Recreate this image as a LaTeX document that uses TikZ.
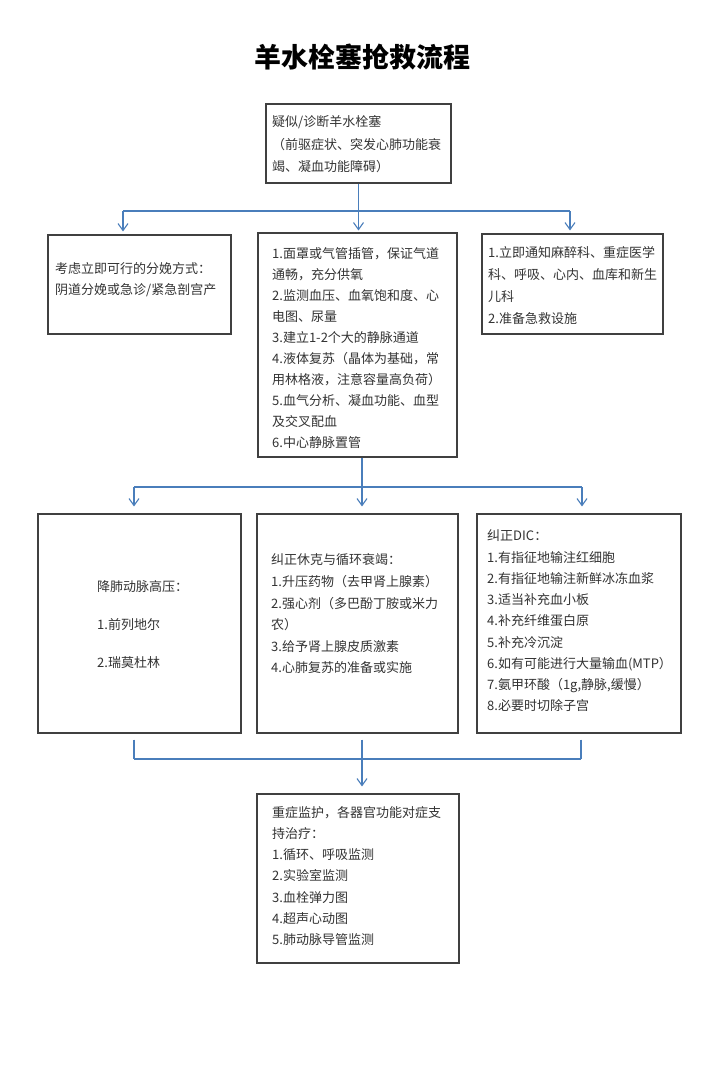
\documentclass[tikz,border=0pt]{standalone}
\usepackage{fontspec}
\newfontfamily\cjk{Noto Sans CJK SC}
\usetikzlibrary{arrows.meta,calc}
\definecolor{boxgray}{HTML}{404040}
\definecolor{textgray}{HTML}{333333}
\definecolor{linkblue}{HTML}{4A7EBB}
\tikzset{
  box/.style={draw=boxgray, line width=1.1pt, inner sep=0pt, anchor=center},
  txt/.style={anchor=west, inner sep=0pt, align=left, text width=215pt, text=textgray},
  link/.style={draw=linkblue, line width=1.1pt},
  arr/.style={link, -{Straight Barb[length=7pt,width=10pt]}},
}
\newcommand{\fs}[1]{\cjk\fontsize{13}{#1}\selectfont}
\begin{document}
\begin{tikzpicture}[x=1pt,y=-1pt]
\fill[white] (0,0) rectangle (720,1080);
\useasboundingbox (0,0) rectangle (720,1080);

\node[font=\cjk\bfseries\fontsize{27}{30}\selectfont, inner sep=0pt] (title) at (362,57) {羊水栓塞抢救流程};

% boxes
\node[box, minimum width=185pt, minimum height=79pt] (b1) at (358.5,143.5) {};
\node[box, minimum width=183pt, minimum height=99pt] (r2a) at (139.5,284.5) {};
\node[box, minimum width=199pt, minimum height=224pt] (r2b) at (357.5,345) {};
\node[box, minimum width=181pt, minimum height=100pt] (r2c) at (572.5,284) {};
\node[box, minimum width=203pt, minimum height=219pt] (r3a) at (139.5,623.5) {};
\node[box, minimum width=201pt, minimum height=219pt] (r3b) at (357.5,623.5) {};
\node[box, minimum width=204pt, minimum height=219pt] (r3c) at (579,623.5) {};
\node[box, minimum width=202pt, minimum height=169pt] (bt) at (358,878.5) {};

% texts
\node[txt, font=\fs{22.5}] (t1) at (272,144.5) {疑似/诊断羊水栓塞\\（前驱症状、突发心肺功能衰\\竭、凝血功能障碍）};
\node[txt, font=\fs{21}] (t2a) at (55,279.5) {考虑立即可行的分娩方式：\\阴道分娩或急诊/紧急剖宫产};
\node[txt, font=\fs{21.1}] (t2b) at (272,348) {1.面罩或气管插管，保证气道\\通畅，充分供氧\\2.监测血压、血氧饱和度、心\\电图、尿量\\3.建立1-2个大的静脉通道\\4.液体复苏（晶体为基础，常\\用林格液，注意容量高负荷）\\5.血气分析、凝血功能、血型\\及交叉配血\\6.中心静脉置管};
\node[txt, font=\fs{21.7}] (t2c) at (488,285.5) {1.立即通知麻醉科、重症医学\\科、呼吸、心内、血库和新生\\儿科\\2.准备急救设施};
\node[txt, font=\fs{38}] (t3a) at (97,625) {降肺动脉高压：\\1.前列地尔\\2.瑞莫杜林};
\node[txt, font=\fs{21.6}] (t3b) at (271,614) {纠正休克与循环衰竭：\\1.升压药物（去甲肾上腺素）\\2.强心剂（多巴酚丁胺或米力\\农）\\3.给予肾上腺皮质激素\\4.心肺复苏的准备或实施};
\node[txt, font=\fs{21.25}] (t3c) at (487,621) {纠正DIC：\\1.有指征地输注红细胞\\2.有指征地输注新鲜冰冻血浆\\3.适当补充血小板\\4.补充纤维蛋白原\\5.补充冷沉淀\\6.如有可能进行大量输血(MTP）\\7.氨甲环酸（1g,静脉,缓慢）\\8.必要时切除子宫};
\node[txt, font=\fs{21.3}] (tb) at (272,876) {重症监护，各器官功能对症支\\持治疗：\\1.循环、呼吸监测\\2.实验室监测\\3.血栓弹力图\\4.超声心动图\\5.肺动脉导管监测};

% connectors level 1
\coordinate (s1) at (358.5,211);
\coordinate (a1) at (123,211);
\coordinate (a2) at (358.5,211);
\coordinate (a3) at (570,211);
\draw[link] (b1.south) -- (s1);
\draw[link] (a1) -- (a3);
\draw[arr, shorten >=3pt] (a1) -- (a1 |- r2a.north);
\draw[arr, shorten >=2pt] (a2) -- (a2 |- r2b.north);
\draw[arr, shorten >=3pt] (a3) -- (a3 |- r2c.north);

% connectors level 2
\coordinate (c1) at (134,487);
\coordinate (c2) at (362,487);
\coordinate (c3) at (582,487);
\draw[link] (r2b.south -| c2) -- (c2);
\draw[link] (c1) -- (c3);
\draw[arr, shorten >=7pt] (c1) -- (c1 |- r3a.north);
\draw[arr, shorten >=7pt] (c2) -- (c2 |- r3b.north);
\draw[arr, shorten >=7pt] (c3) -- (c3 |- r3c.north);

% connectors level 3
\coordinate (e1) at (134,759);
\coordinate (e2) at (362,759);
\coordinate (e3) at (581,759);
\draw[link, shorten <=6pt] (r3a.south -| e1) -- (e1);
\draw[link, shorten <=6pt] (r3b.south -| e2) -- (e2);
\draw[link, shorten <=6pt] (r3c.south -| e3) -- (e3);
\draw[link] (e1) -- (e3);
\draw[arr, shorten >=7pt] (e2) -- (e2 |- bt.north);
\end{tikzpicture}
\end{document}
